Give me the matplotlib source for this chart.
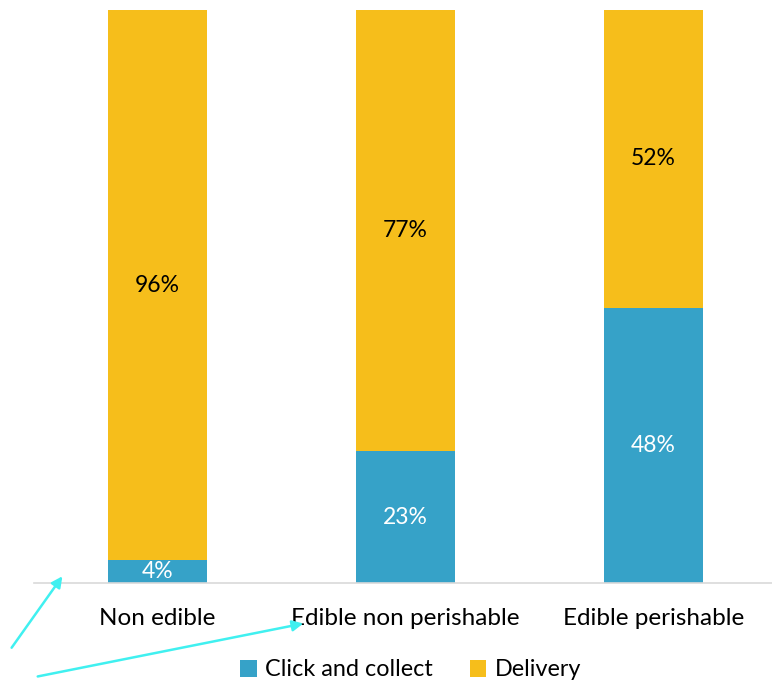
import matplotlib.pyplot as plt
import numpy as np

plt.rcParams['font.family'] = ['Lato', 'DejaVu Sans']

# data
categories = ["Non edible", "Edible non perishable", "Edible perishable"]
click_collect = [0.04, 0.23, 0.48]
delivery = [0.96, 0.77, 0.52]
series_names = ["Click and collect", "Delivery"]

blue = "#36A2C8"
yellow = "#F6BE1B"
fs = 16.5

fig = plt.figure(figsize=(7.72, 6.83), dpi=100)
ax = fig.add_axes([33.5 / 772, 100 / 683, 744 / 772, 573 / 683])

x = np.arange(len(categories))
b1 = ax.bar(x, click_collect, width=0.4, color=blue, label=series_names[0])
b2 = ax.bar(x, delivery, width=0.4, bottom=click_collect, color=yellow, label=series_names[1])

for i in range(len(categories)):
    ax.text(x[i], click_collect[i] / 2, f"{click_collect[i]:.0%}", ha='center', va='center',
            color='white', fontsize=fs)
    ax.text(x[i], click_collect[i] + delivery[i] / 2, f"{delivery[i]:.0%}", ha='center', va='center',
            color='black', fontsize=fs)

ax.set_xlim(-0.5, 2.5)
ax.set_ylim(0, 1)
ax.set_yticks([])
ax.set_xticks(x)
ax.set_xticklabels(categories, fontsize=17.5)
ax.tick_params(axis='x', length=0, pad=18)
for s in ['top', 'right', 'left']:
    ax.spines[s].set_visible(False)
ax.spines['bottom'].set_color('#D9D9D9')
ax.spines['bottom'].set_linewidth(1.2)

fig.legend(handles=[b1, b2], labels=series_names, loc='center', bbox_to_anchor=(0.532, 1 - 670 / 683),
           ncol=2, frameon=False, fontsize=16.8, handlelength=0.7, handleheight=0.7,
           handletextpad=0.35, columnspacing=1.6)

# cyan arrows in the lower left
arrow_style = dict(arrowstyle='-|>', color='#40F0F0', lw=1.8, mutation_scale=16)
fig.add_artist(plt.matplotlib.patches.FancyArrowPatch((10 / 772, 1 - 650 / 683), (64 / 772, 1 - 574 / 683),
                                                      transform=fig.transFigure, **arrow_style))
fig.add_artist(plt.matplotlib.patches.FancyArrowPatch((35 / 772, 1 - 677 / 683), (306 / 772, 1 - 623 / 683),
                                                      transform=fig.transFigure, **arrow_style))

fig.savefig("out.png", dpi=100)
